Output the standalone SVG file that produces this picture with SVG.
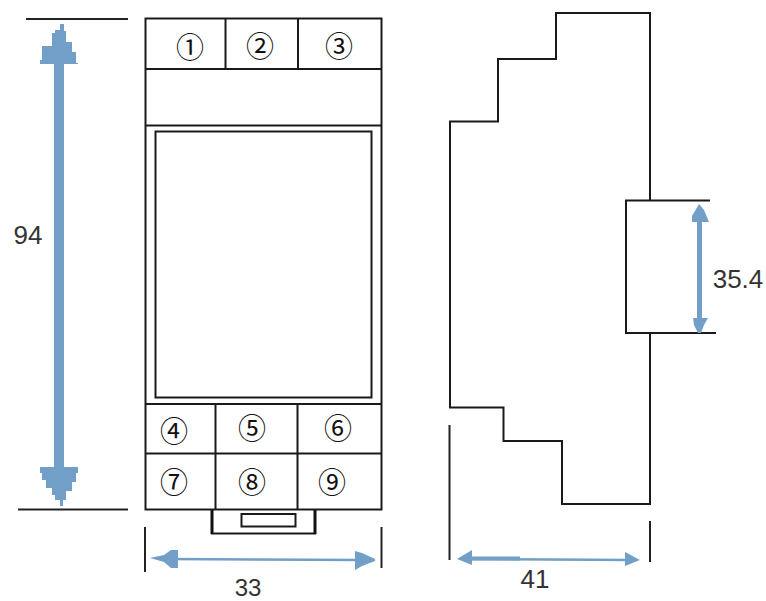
<svg xmlns="http://www.w3.org/2000/svg" width="766" height="601" viewBox="0 0 766 601">
<style>
.k{fill:none;stroke:#1a1a1a;stroke-width:2}
.ext{fill:none;stroke:#222;stroke-width:2}
.a{fill:#729fc8;stroke:none}
.as{stroke:#729fc8;fill:none}
.c{font-family:"Noto Sans CJK SC","DejaVu Sans",sans-serif;font-size:28px;fill:#111;text-anchor:middle}
.d{font-family:"Liberation Sans",Arial,sans-serif;font-size:26px;fill:#333;text-anchor:middle}
.s{font-size:24px}
</style>
<rect width="766" height="601" fill="#fff"/>
<g id="front-body">
<rect class="k" x="145.500" y="18.500" width="236" height="491"/>
<path class="k" d="M145 69H382M145 125.500H382M145 404H382M145 453.500H382M225.500 19V69M298 19V69M215.500 404V509M297.500 404V509"/>
<rect class="k" x="155.500" y="131.500" width="216" height="266"/>
</g>
<g id="latch">
<path class="k" d="M212 510V533.500H315V510"/>
<path fill="none" stroke="#111" stroke-width="3" d="M212 510V534M315 510V534"/>
<rect class="k" x="241.500" y="514" width="54" height="12.500"/>
</g>
<g id="terminals">
<text class="c" x="190" y="58">①</text>
<text class="c" x="260" y="57">②</text>
<text class="c" x="339" y="57">③</text>
<text class="c" x="174" y="442">④</text>
<text class="c" x="252" y="439">⑤</text>
<text class="c" x="338" y="439">⑥</text>
<text class="c" x="174" y="493">⑦</text>
<text class="c" x="252" y="493">⑧</text>
<text class="c" x="332" y="493">⑨</text>
</g>
<g id="side-profile">
<path class="k" d="M650 200V13H556V59H498V121.500H450V407.500H503.500V441H562V504H650V333"/>
<path class="k" d="M710 200.500H626V333H716"/>
</g>
<g id="connectors">
<path class="ext" d="M26 19H128M18 509.500H128M145 527V572M381.500 527V568M449.500 425V560M650 521V562"/>
<path class="a" d="M54 60H64V470H54Z"/>
<path class="a" d="M60 24H64V31H66V42H72V52H76V63H78V64H40V60H42V46H52V33H55V30H60Z"/>
<path class="a" d="M40 467H78V473H76V482H72V491H66V500H63V506H60V500H55V495H52V488H46V480H42V473H40Z"/>
<path class="as" stroke-width="2.500" d="M165 559L360 560"/>
<path class="a" d="M150 558L164 555L171 550H178V568H171L164 562Z"/>
<path class="a" d="M355 551L362 553L375 559V561L362 566L355 570Z"/>
<path class="as" stroke-width="2.500" d="M465 559L630 560"/>
<path class="as" stroke-width="4" d="M465 558.500H520"/>
<path class="a" d="M457 559L472 550V565Z"/>
<path class="a" d="M625 552L640 560L625 566Z"/>
<path class="as" stroke-width="5" d="M699.500 218V322"/>
<path class="a" d="M699 204L704 210L709 222H692V216Z"/>
<path class="a" d="M693 318H708L704 325L701 333H698L694 325Z"/>
</g>
<g id="dimensions">
<text class="d" x="28" y="244">94</text>
<text class="d s" x="248" y="596">33</text>
<text class="d" x="535" y="588">41</text>
<text class="d" x="738" y="288">35.4</text>
</g>
</svg>
